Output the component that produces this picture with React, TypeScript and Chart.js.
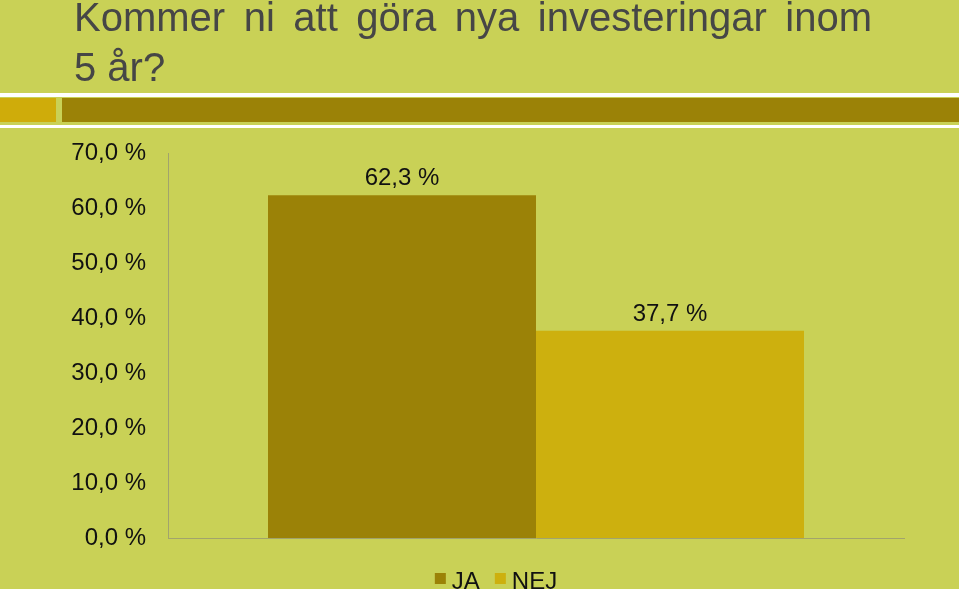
import React, { useEffect, useRef } from "react";
import { Chart, registerables } from "chart.js";

Chart.register(...registerables);

const titleLines = ["Kommer ni att göra nya investeringar inom", "5 år?"];
const categories = [""];
const seriesLabels = ["JA", "NEJ"];
const jaValues = [62.3];
const nejValues = [37.7];
const seriesColors = ["#9b8207", "#cdb00e"];
const yTicks = { min: 0, max: 70, step: 10 };

const BG = "#c9d156";
const FONT = "'Liberation Sans', Arial, sans-serif";

const fmt = (v: number) => v.toFixed(1).replace(".", ",") + " %";

function drawSpacedLine(ctx: any, text: string, x: number, y: number, extra: number) {
  const words = text.split(" ");
  const sp = ctx.measureText(" ").width + extra;
  let cx = x;
  words.forEach((w) => {
    ctx.fillText(w, cx, y);
    cx += ctx.measureText(w).width + sp;
  });
}

const decorPlugin = {
  id: "decor",
  beforeDraw(chart: any) {
    const { ctx, width } = chart;
    ctx.save();
    ctx.fillStyle = BG;
    ctx.fillRect(0, 0, width, chart.height);
    // title
    ctx.fillStyle = "#464646";
    ctx.font = `40px ${FONT}`;
    ctx.textAlign = "left";
    ctx.textBaseline = "alphabetic";
    drawSpacedLine(ctx, titleLines[0], 74, 31, 7.4);
    drawSpacedLine(ctx, titleLines[1], 74, 81, 0);
    // band
    ctx.fillStyle = "#ffffff";
    ctx.fillRect(0, 93, width, 4);
    ctx.fillRect(0, 125, width, 3);
    ctx.fillStyle = "#cfac0a";
    ctx.fillRect(0, 98, 56, 24);
    ctx.fillStyle = "#9b8207";
    ctx.fillRect(62, 98, width - 62, 24);
    ctx.restore();
  },
  afterDatasetsDraw(chart: any) {
    const { ctx } = chart;
    ctx.save();
    ctx.fillStyle = "#111111";
    ctx.font = `24px ${FONT}`;
    ctx.textAlign = "center";
    ctx.textBaseline = "alphabetic";
    chart.data.datasets.forEach((ds: any, i: number) => {
      const meta = chart.getDatasetMeta(i);
      meta.data.forEach((el: any, j: number) => {
        ctx.fillText(fmt(ds.data[j]), el.x, el.y - 10);
      });
    });
    ctx.restore();
  },
  afterDraw(chart: any) {
    const { ctx } = chart;
    ctx.save();
    ctx.font = `24px ${FONT}`;
    ctx.textAlign = "left";
    ctx.textBaseline = "alphabetic";
    const box = 11;
    const gapText = 6;
    const gapItem = 15;
    const items = chart.data.datasets.map((ds: any) => ({
      label: ds.label,
      color: ds.backgroundColor,
      w: box + gapText + ctx.measureText(ds.label).width,
    }));
    const total = items.reduce((s: number, it: any) => s + it.w, 0) + gapItem * (items.length - 1);
    let x = 496 - total / 2;
    const baseline = 589;
    items.forEach((it: any) => {
      ctx.fillStyle = it.color;
      ctx.fillRect(x, 573, box, box);
      ctx.fillStyle = "#111111";
      ctx.fillText(it.label, x + box + gapText, baseline);
      x += it.w + gapItem;
    });
    ctx.restore();
  },
};

export default function App() {
  const ref = useRef<HTMLCanvasElement | null>(null);
  useEffect(() => {
    if (!ref.current) return;
    const chart = new Chart(ref.current, {
      type: "bar",
      data: {
        labels: categories,
        datasets: [
          { label: seriesLabels[0], data: jaValues, backgroundColor: seriesColors[0], borderWidth: 0 },
          { label: seriesLabels[1], data: nejValues, backgroundColor: seriesColors[1], borderWidth: 0 },
        ],
      },
      options: {
        animation: false,
        responsive: false,
        devicePixelRatio: 1,
        layout: { padding: { top: 153, bottom: 51, left: 0, right: 55 } },
        datasets: { bar: { barPercentage: 1, categoryPercentage: 536 / 736 } },
        plugins: { legend: { display: false }, tooltip: { enabled: false }, title: { display: false } },
        scales: {
          x: {
            grid: { display: false, drawTicks: false },
            ticks: { display: false },
            border: { display: true, color: "#a2a46c", width: 1 },
            afterFit: (s: any) => { s.height = 0; },
          },
          y: {
            min: yTicks.min,
            max: yTicks.max,
            grid: { display: false, drawTicks: false },
            border: { display: true, color: "#a2a46c", width: 1 },
            ticks: {
              stepSize: yTicks.step,
              padding: 22,
              color: "#111111",
              font: { family: FONT, size: 24 },
              callback: (v: any) => fmt(Number(v)),
            },
            afterFit: (s: any) => { s.width = 168; },
          },
        },
      },
      plugins: [decorPlugin],
    });
    return () => chart.destroy();
  }, []);
  return (
    <div style={{ position: "fixed", left: 0, top: 0, width: 959, height: 589, overflow: "hidden", background: BG }}>
      <canvas ref={ref} width={959} height={589} style={{ display: "block" }} />
    </div>
  );
}
